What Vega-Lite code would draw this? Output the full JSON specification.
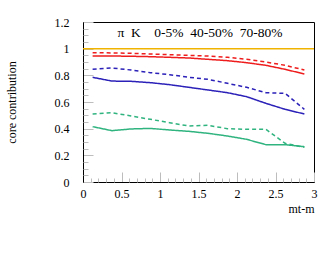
{
  "$schema": "https://vega.github.io/schema/vega-lite/v6.json",
  "autosize": "none",
  "width": 231,
  "height": 160,
  "padding": {"left": 83, "top": 22, "right": 11, "bottom": 72},
  "background": "white",
  "config": {
    "view": {"stroke": "black", "strokeWidth": 1},
    "font": "Liberation Serif",
    "axis": {"labelFont": "Liberation Serif", "titleFont": "Liberation Serif", "labelFontSize": 12, "titleFontSize": 12, "titleFontWeight": "normal", "labelColor": "black", "titleColor": "black", "domainColor": "black", "tickColor": "#bdbdbd", "grid": false}
  },
  "resolve": {"axis": {"x": "independent", "y": "independent"}},
  "datasets": {
    "curves": [
      {"x": 0.125, "v": 0.945, "series": "pi-0-5", "style": "solid"},
      {"x": 0.375, "v": 0.945, "series": "pi-0-5", "style": "solid"},
      {"x": 0.625, "v": 0.943, "series": "pi-0-5", "style": "solid"},
      {"x": 0.875, "v": 0.94, "series": "pi-0-5", "style": "solid"},
      {"x": 1.125, "v": 0.935, "series": "pi-0-5", "style": "solid"},
      {"x": 1.375, "v": 0.93, "series": "pi-0-5", "style": "solid"},
      {"x": 1.625, "v": 0.92, "series": "pi-0-5", "style": "solid"},
      {"x": 1.875, "v": 0.91, "series": "pi-0-5", "style": "solid"},
      {"x": 2.125, "v": 0.895, "series": "pi-0-5", "style": "solid"},
      {"x": 2.375, "v": 0.875, "series": "pi-0-5", "style": "solid"},
      {"x": 2.625, "v": 0.845, "series": "pi-0-5", "style": "solid"},
      {"x": 2.875, "v": 0.81, "series": "pi-0-5", "style": "solid"},
      {"x": 0.125, "v": 0.97, "series": "K-0-5", "style": "dashed"},
      {"x": 0.375, "v": 0.968, "series": "K-0-5", "style": "dashed"},
      {"x": 0.625, "v": 0.965, "series": "K-0-5", "style": "dashed"},
      {"x": 0.875, "v": 0.96, "series": "K-0-5", "style": "dashed"},
      {"x": 1.125, "v": 0.955, "series": "K-0-5", "style": "dashed"},
      {"x": 1.375, "v": 0.95, "series": "K-0-5", "style": "dashed"},
      {"x": 1.625, "v": 0.945, "series": "K-0-5", "style": "dashed"},
      {"x": 1.875, "v": 0.935, "series": "K-0-5", "style": "dashed"},
      {"x": 2.125, "v": 0.92, "series": "K-0-5", "style": "dashed"},
      {"x": 2.375, "v": 0.9, "series": "K-0-5", "style": "dashed"},
      {"x": 2.625, "v": 0.875, "series": "K-0-5", "style": "dashed"},
      {"x": 2.875, "v": 0.84, "series": "K-0-5", "style": "dashed"},
      {"x": 0.125, "v": 0.785, "series": "pi-40-50", "style": "solid"},
      {"x": 0.375, "v": 0.757, "series": "pi-40-50", "style": "solid"},
      {"x": 0.625, "v": 0.755, "series": "pi-40-50", "style": "solid"},
      {"x": 0.875, "v": 0.745, "series": "pi-40-50", "style": "solid"},
      {"x": 1.125, "v": 0.73, "series": "pi-40-50", "style": "solid"},
      {"x": 1.375, "v": 0.71, "series": "pi-40-50", "style": "solid"},
      {"x": 1.625, "v": 0.69, "series": "pi-40-50", "style": "solid"},
      {"x": 1.875, "v": 0.67, "series": "pi-40-50", "style": "solid"},
      {"x": 2.125, "v": 0.64, "series": "pi-40-50", "style": "solid"},
      {"x": 2.375, "v": 0.59, "series": "pi-40-50", "style": "solid"},
      {"x": 2.625, "v": 0.545, "series": "pi-40-50", "style": "solid"},
      {"x": 2.875, "v": 0.51, "series": "pi-40-50", "style": "solid"},
      {"x": 0.125, "v": 0.845, "series": "K-40-50", "style": "dashed"},
      {"x": 0.375, "v": 0.855, "series": "K-40-50", "style": "dashed"},
      {"x": 0.625, "v": 0.84, "series": "K-40-50", "style": "dashed"},
      {"x": 0.875, "v": 0.82, "series": "K-40-50", "style": "dashed"},
      {"x": 1.125, "v": 0.805, "series": "K-40-50", "style": "dashed"},
      {"x": 1.375, "v": 0.785, "series": "K-40-50", "style": "dashed"},
      {"x": 1.625, "v": 0.77, "series": "K-40-50", "style": "dashed"},
      {"x": 1.875, "v": 0.74, "series": "K-40-50", "style": "dashed"},
      {"x": 2.125, "v": 0.71, "series": "K-40-50", "style": "dashed"},
      {"x": 2.375, "v": 0.67, "series": "K-40-50", "style": "dashed"},
      {"x": 2.625, "v": 0.665, "series": "K-40-50", "style": "dashed"},
      {"x": 2.875, "v": 0.545, "series": "K-40-50", "style": "dashed"},
      {"x": 0.125, "v": 0.415, "series": "pi-70-80", "style": "solid"},
      {"x": 0.375, "v": 0.385, "series": "pi-70-80", "style": "solid"},
      {"x": 0.625, "v": 0.398, "series": "pi-70-80", "style": "solid"},
      {"x": 0.875, "v": 0.402, "series": "pi-70-80", "style": "solid"},
      {"x": 1.125, "v": 0.39, "series": "pi-70-80", "style": "solid"},
      {"x": 1.375, "v": 0.38, "series": "pi-70-80", "style": "solid"},
      {"x": 1.625, "v": 0.365, "series": "pi-70-80", "style": "solid"},
      {"x": 1.875, "v": 0.345, "series": "pi-70-80", "style": "solid"},
      {"x": 2.125, "v": 0.32, "series": "pi-70-80", "style": "solid"},
      {"x": 2.375, "v": 0.28, "series": "pi-70-80", "style": "solid"},
      {"x": 2.625, "v": 0.28, "series": "pi-70-80", "style": "solid"},
      {"x": 2.875, "v": 0.265, "series": "pi-70-80", "style": "solid"},
      {"x": 0.125, "v": 0.51, "series": "K-70-80", "style": "dashed"},
      {"x": 0.375, "v": 0.52, "series": "K-70-80", "style": "dashed"},
      {"x": 0.625, "v": 0.495, "series": "K-70-80", "style": "dashed"},
      {"x": 0.875, "v": 0.47, "series": "K-70-80", "style": "dashed"},
      {"x": 1.125, "v": 0.445, "series": "K-70-80", "style": "dashed"},
      {"x": 1.375, "v": 0.42, "series": "K-70-80", "style": "dashed"},
      {"x": 1.625, "v": 0.425, "series": "K-70-80", "style": "dashed"},
      {"x": 1.875, "v": 0.4, "series": "K-70-80", "style": "dashed"},
      {"x": 2.125, "v": 0.395, "series": "K-70-80", "style": "dashed"},
      {"x": 2.375, "v": 0.395, "series": "K-70-80", "style": "dashed"},
      {"x": 2.625, "v": 0.29, "series": "K-70-80", "style": "dashed"},
      {"x": 2.875, "v": 0.26, "series": "K-70-80", "style": "dashed"}
    ]
  },
  "layer": [
    {
      "data": {"name": "curves"},
      "mark": {"type": "line", "strokeWidth": 1.5},
      "encoding": {
        "x": {
          "field": "x", "type": "quantitative",
          "scale": {"domain": [0, 3], "nice": false},
          "axis": {
            "orient": "bottom",
            "title": "mt-m", "titleAnchor": "end", "titlePadding": 4,
            "values": [0, 0.5, 1, 1.5, 2, 2.5, 3],
            "format": "~g",
            "tickSize": -10,
            "labelPadding": 16,
            "labelFlush": false, "labelOverlap": false
          }
        },
        "y": {
          "field": "v", "type": "quantitative",
          "scale": {"domain": [0, 1.2], "nice": false},
          "axis": {
            "orient": "left",
            "title": "core contribution", "titlePadding": 36,
            "values": [0, 0.2, 0.4, 0.6, 0.8, 1, 1.2],
            "format": "~g",
            "tickSize": -10,
            "labelPadding": 24,
            "labelFlush": false, "labelOverlap": false
          }
        },
        "detail": {"field": "series"},
        "color": {
          "field": "series", "type": "nominal", "legend": null,
          "scale": {"domain": ["pi-0-5", "K-0-5", "pi-40-50", "K-40-50", "pi-70-80", "K-70-80"], "range": ["#ee1c1c", "#ee1c1c", "#2b20b8", "#2b20b8", "#2fb37f", "#2fb37f"]}
        },
        "strokeDash": {
          "field": "style", "type": "nominal", "legend": null,
          "scale": {"domain": ["solid", "dashed"], "range": [[1, 0], [4, 3]]}
        }
      }
    },
    {
      "data": {"values": [{"y": 1}]},
      "mark": {"type": "rule", "color": "#f0b400", "strokeWidth": 1.5},
      "encoding": {"y": {"field": "y", "type": "quantitative", "axis": null}}
    },
    {
      "data": {"values": [{"x": 1.52, "y": 1.118, "label": "π\u00a0\u00a0K\u00a0\u00a0\u00a0\u00a00-5%\u00a0\u00a040-50%\u00a0\u00a070-80%"}]},
      "mark": {"type": "text", "font": "Liberation Serif", "fontSize": 13.5, "color": "black"},
      "encoding": {
        "x": {"field": "x", "type": "quantitative",
          "axis": {"orient": "bottom", "title": null, "labels": false, "domain": false, "tickSize": -4,
            "values": [0.1,0.2,0.3,0.4,0.6,0.7,0.8,0.9,1.1,1.2,1.3,1.4,1.6,1.7,1.8,1.9,2.1,2.2,2.3,2.4,2.6,2.7,2.8,2.9]}},
        "y": {"field": "y", "type": "quantitative",
          "axis": {"orient": "left", "title": null, "labels": false, "domain": false, "tickSize": -5,
            "values": [0.05,0.1,0.15,0.25,0.3,0.35,0.45,0.5,0.55,0.65,0.7,0.75,0.85,0.9,0.95,1.05,1.1,1.15]}},
        "text": {"field": "label"}
      }
    }
  ]
}
